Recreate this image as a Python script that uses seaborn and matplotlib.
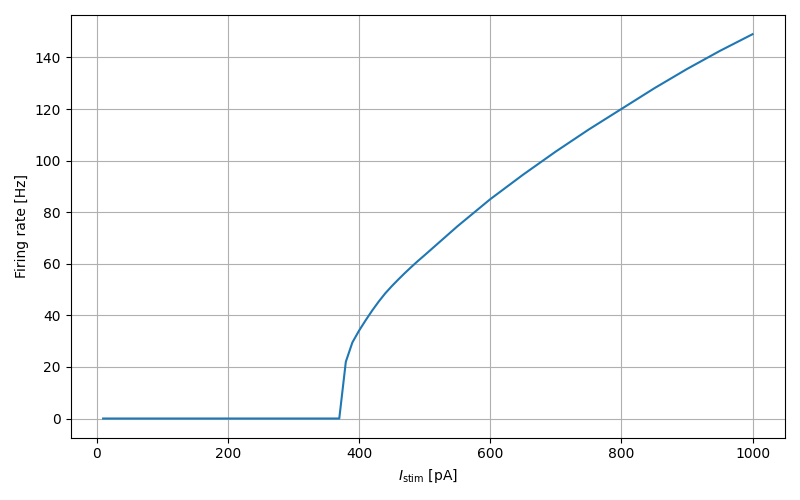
import matplotlib
matplotlib.use("Agg")
import matplotlib.pyplot as plt
import seaborn as sns
import pandas as pd

stim = [10, 370, 380, 390, 400, 410, 420, 430, 440, 450, 460, 470, 480, 490, 500,
        550, 600, 650, 700, 750, 800, 850, 900, 950, 1000]
rate = [0, 0, 22.0, 29.5, 34.0, 38.0, 41.8, 45.3, 48.5, 51.3, 53.9, 56.4, 58.8, 61.1, 63.3,
        74.5, 85.0, 94.5, 103.5, 112.0, 120.0, 128.0, 135.5, 142.5, 149.0]

df = pd.DataFrame({"I_stim": stim, "rate": rate})

fig, ax = plt.subplots(figsize=(8, 5), dpi=100)
sns.lineplot(data=df, x="I_stim", y="rate", ax=ax, color="#1f77b4", estimator=None)
ax.set_xlabel(r"$I_\mathrm{stim}$ [pA]")
ax.set_ylabel("Firing rate [Hz]")
ax.grid(True)

fig.tight_layout()
fig.savefig("out.png")
